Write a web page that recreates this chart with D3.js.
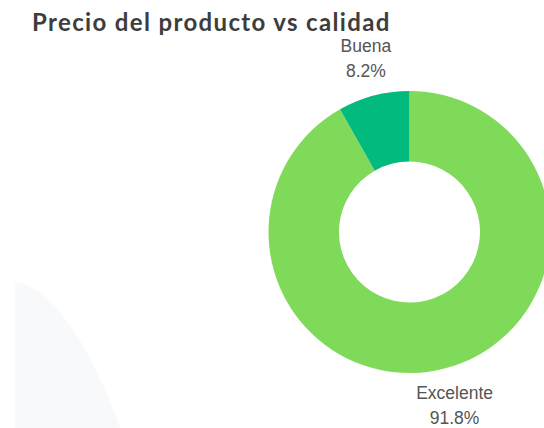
<!DOCTYPE html>
<html><head><meta charset="utf-8">
<script src="https://cdn.jsdelivr.net/npm/d3@7"></script>
<style>html,body{margin:0;padding:0;background:#fff;}svg{display:block;}</style>
</head><body>
<script>
const categories = ["Excelente", "Buena"];
const values = [91.8, 8.2];
const colors = ["#80da5a", "#02ba7e"];
const title = "Precio del producto vs calidad";

const W = 544, H = 428;
const svg = d3.select("body").append("svg").attr("width", W).attr("height", H);

// faint background decoration
svg.append("path")
  .attr("d", "M15,282 C45,285 85,330 120,428 L15,428 Z")
  .attr("fill", "#f8f9fb");

svg.append("text")
  .attr("x", 32).attr("y", 31)
  .attr("font-family", "Lato")
  .attr("font-weight", 700)
  .attr("font-size", 24)
  .attr("letter-spacing", 1.35)
  .attr("fill", "#3d3d3d")
  .text(title);

const cx = 409.5, cy = 232, rOuter = 141, rInner = 70.5;
const g = svg.append("g").attr("transform", `translate(${cx},${cy})`);

const data = categories.map((c, i) => ({ cat: c, value: values[i], color: colors[i] }));
const pie = d3.pie().value(d => d.value).sort(null);
const arcs = pie(data);
const arc = d3.arc().innerRadius(rInner).outerRadius(rOuter);

g.selectAll("path.slice").data(arcs).join("path")
  .attr("class", "slice")
  .attr("d", arc)
  .attr("fill", d => d.data.color);

const labelR = 177;
const labelArc = d3.arc().innerRadius(labelR).outerRadius(labelR);
const dxs = [0, 1.5];
const lbl = g.selectAll("g.lbl").data(arcs).join("g")
  .attr("class", "lbl")
  .attr("transform", (d, i) => {
    const [x, y] = labelArc.centroid(d);
    return `translate(${x + dxs[i]},${y})`;
  });
lbl.append("text")
  .attr("text-anchor", "middle")
  .attr("y", (d, i) => i === 0 ? -4 : -8.5)
  .attr("font-family", "Liberation Sans, Arial, sans-serif")
  .attr("font-size", 17.5)
  .attr("fill", "#555")
  .text(d => d.data.cat);
lbl.append("text")
  .attr("text-anchor", "middle")
  .attr("y", (d, i) => i === 0 ? 20.7 : 16)
  .attr("font-family", "Liberation Sans, Arial, sans-serif")
  .attr("font-size", 17.5)
  .attr("fill", "#555")
  .text(d => d.data.value.toFixed(1) + "%");
</script>
</body></html>
